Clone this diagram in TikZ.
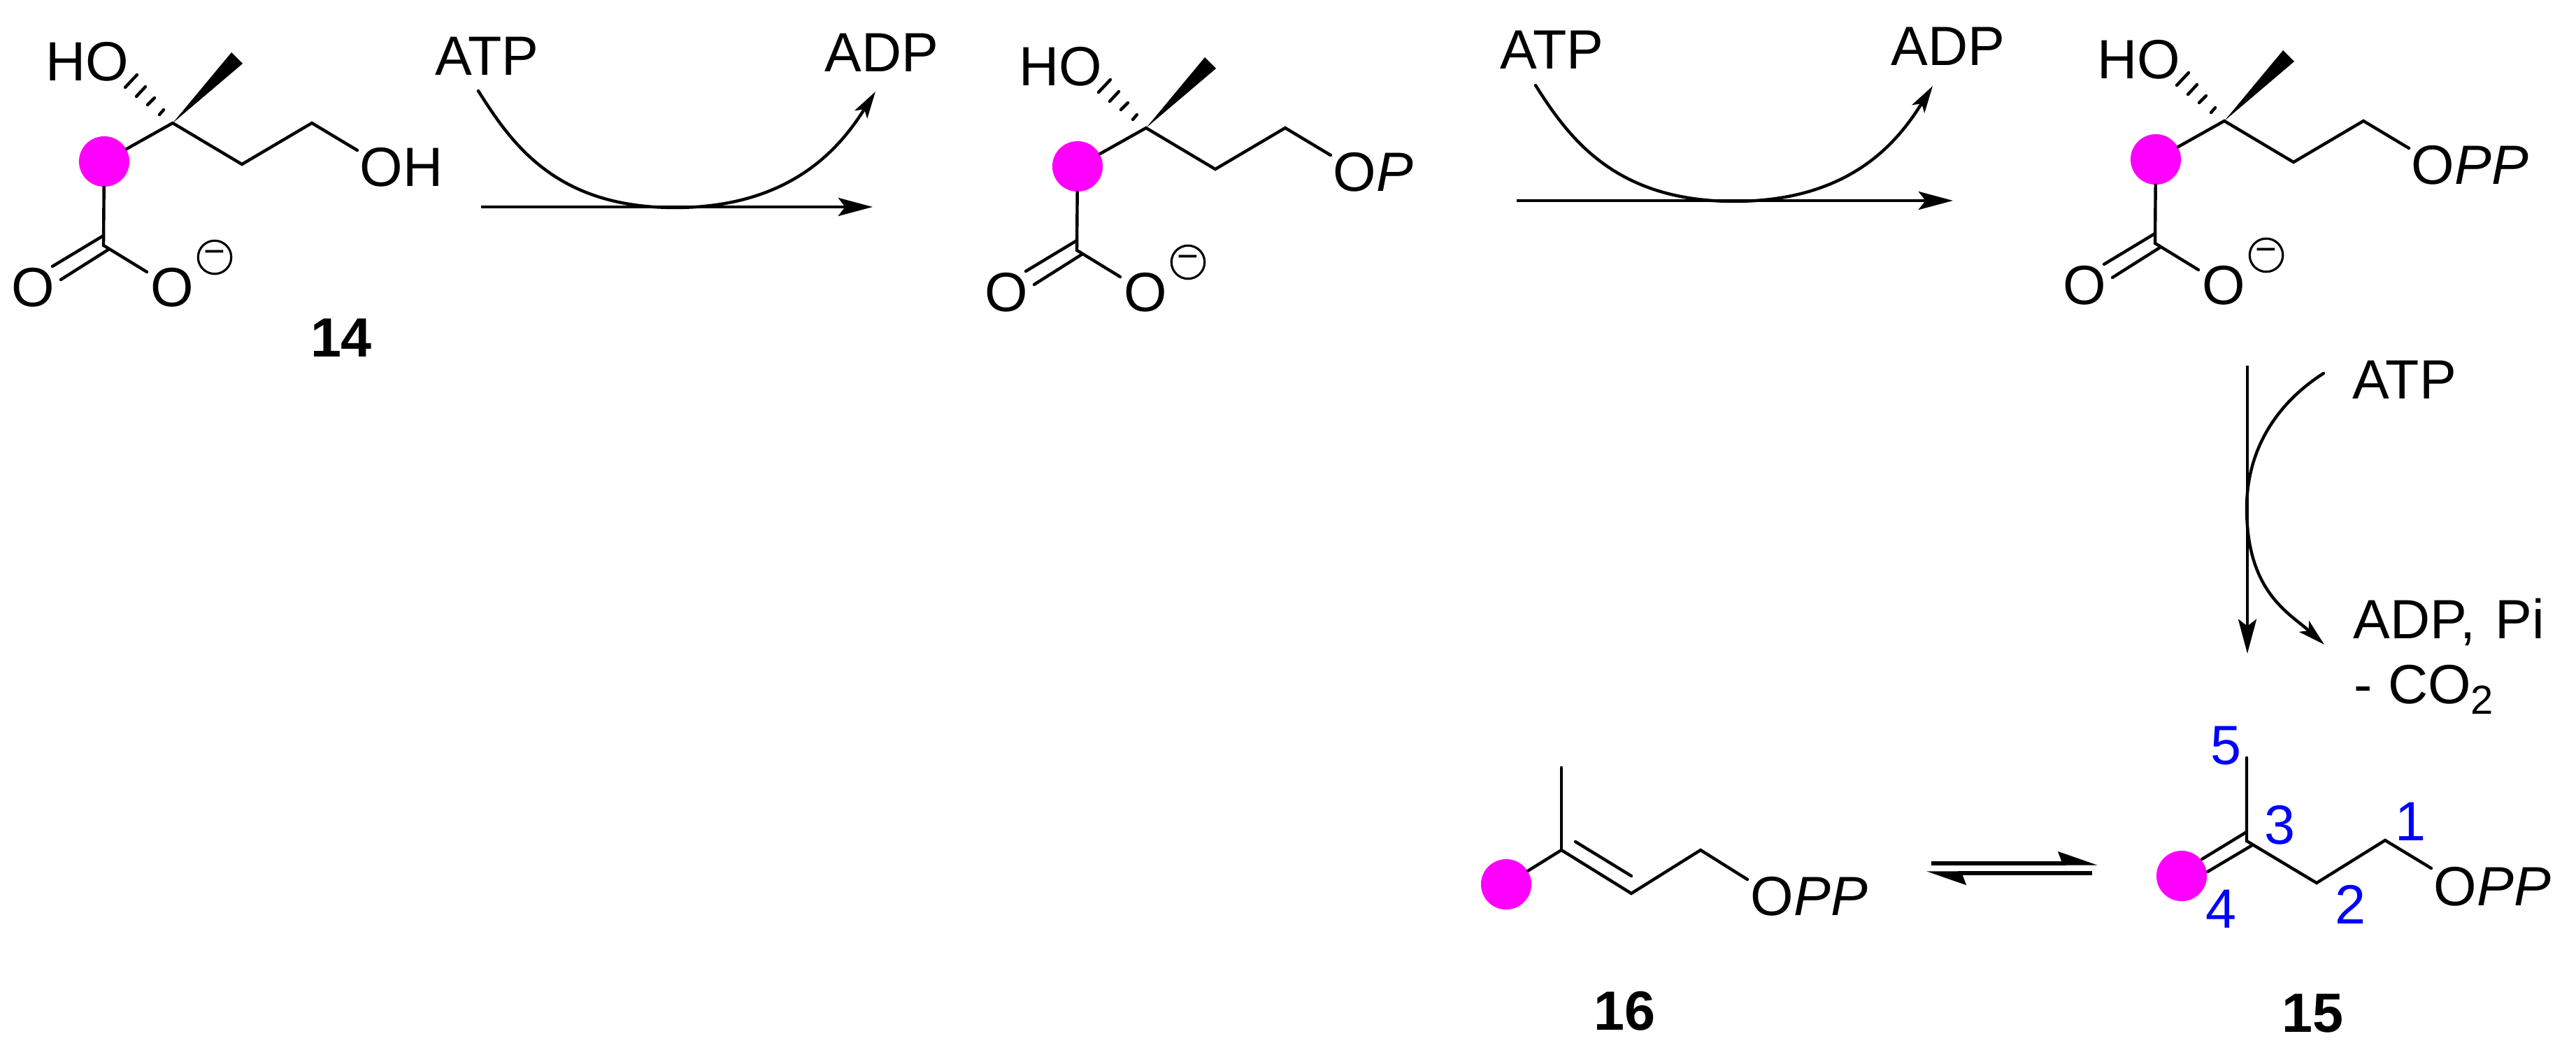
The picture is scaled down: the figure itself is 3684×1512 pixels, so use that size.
\documentclass[tikz,border=0pt]{standalone}
\usepackage{fontspec}
\setmainfont{Liberation Sans}
\usetikzlibrary{arrows.meta}
\definecolor{dotpink}{RGB}{255,0,255}
\definecolor{numblue}{RGB}{0,0,255}

\begin{document}
\begin{tikzpicture}[x=0.01cm,y=-0.01cm,
                    bond/.style={line width=1.25pt,line cap=round},
                    lbl/.style={inner sep=0pt,anchor=base west,font=\fontsize{22.5}{27}\selectfont},
                    cmpd/.style={inner sep=0pt,anchor=base,font=\fontsize{22.5}{27}\selectfont\bfseries},
                    num/.style={inner sep=0pt,text=numblue,font=\fontsize{22.5}{27}\selectfont},
                    oxy/.style={circle,inner sep=0pt,minimum size=23pt,font=\fontsize{22.5}{27}\selectfont},
                    atomdot/.style={circle,fill=dotpink,inner sep=0pt,minimum size=20.5pt},
                    negring/.style={circle,draw,line width=0.9pt,inner sep=0pt,minimum size=13.5pt,font=\fontsize{15}{15}\selectfont},
                    rxn/.style={line width=1.25pt,-{Stealth[length=14pt,width=7.4pt,inset=2.8pt]}},
                    bent/.style={line width=1.25pt,line cap=round,-{Stealth[length=11pt,width=6pt,inset=2.5pt]}},
                    eqm/.style={line width=1.5pt,-{Stealth[harpoon,length=13.9pt,width=9.5pt,inset=1.7pt]}}]
                            \useasboundingbox (0,0) rectangle (3684,1512);

                            % Top row of acids
                            \foreach \mol/\mx/\my/\tail in {a/247/176/{OH},b/1639/183/{O\textit{P}},c/3181/173/{O\textit{PP}}}{
                            \begin{scope}[shift={(\mx,\my)}]
                                \coordinate (\mol C) at (0,0);
                                \coordinate (\mol T) at (99,59);
                                \coordinate (\mol U) at (199,0);
                                \coordinate (\mol E) at (264,39);
                                \coordinate (\mol W1) at (84,-101);
                                \coordinate (\mol W2) at (100,-85);
                                \coordinate (\mol K) at (-99,175);
                                \coordinate (\mol K1) at (-99,161);
                                \coordinate (\mol K2) at (-172,205);
                                \coordinate (\mol K3) at (-92,181);
                                \coordinate (\mol K4) at (-160,224);
                                \node[atomdot] (\mol D) at (-98,55) {};
                                \node[oxy] (\mol Ol) at (-200,235) {O};
                                \node[oxy] (\mol Or) at (-1,235) {O};
                                \node[negring] (\mol N) at (60,192) {\raisebox{-1.6pt}{−}};
                                \node[lbl] (\mol H) at (-182,-61) {HO};
                                \node[lbl] (\mol L) at (267,90) {\tail};
                                \fill (\mol C) -- (\mol W1) -- (\mol W2) -- cycle;
                                \draw[bond] (\mol D) -- (\mol C) -- (\mol T) -- (\mol U) -- (\mol E);
                                \draw[bond] (\mol D) -- (\mol K) -- (\mol Or);
                                \draw[bond] (\mol K1) -- (\mol K2);
                                \draw[bond] (\mol K3) -- (\mol K4);
                                % Hashed bond
                                \foreach \ha/\hb/\hc/\hd in {-51/-69/-68/-51,-39/-52/-52/-38,-26/-36/-36/-26,-13/-19/-19/-12}{
                                    \draw[bond] (\ha,\hb) -- (\hc,\hd);
                                }
                            \end{scope}
                            }
                            \node[cmpd] (n14) at (488,510) {14};

                            % First step
                            \node[lbl] (atpa) at (622,107) {ATP};
                            \node[lbl] (adpa) at (1179,102) {ADP};
                            \coordinate (sa) at (688,296);
                            \coordinate (ea) at (1248,296);
                            \coordinate (ca) at (684,130);
                            \coordinate (ma) at (965,297);
                            \coordinate (fa) at (1252,131);
                            \draw[rxn] (sa) -- (ea);
                            \draw[bent] (ca) .. controls +(48,76) and +(-170,0) .. (ma)
                            .. controls +(170,0) and +(-48,76) .. (fa);

                            % Second step
                            \node[lbl] (atpb) at (2145,98) {ATP};
                            \node[lbl] (adpb) at (2704,93) {ADP};
                            \coordinate (sb) at (2169,287);
                            \coordinate (eb) at (2793,287);
                            \coordinate (cb) at (2196,122);
                            \coordinate (mb) at (2480,288);
                            \coordinate (fb) at (2764,123);
                            \draw[rxn] (sb) -- (eb);
                            \draw[bent] (cb) .. controls +(48,76) and +(-170,0) .. (mb)
                            .. controls +(170,0) and +(-48,76) .. (fb);

                            % Third step
                            \node[lbl] (atpc) at (3364,570) {ATP};
                            \node[lbl] (adpc) at (3365,913) {ADP,\hspace{8pt}Pi};
                            \node[lbl] (co2) at (3366,1006) {- CO\raisebox{-4.5pt}{\fontsize{16.5}{18}\selectfont 2}};
                            \coordinate (sc) at (3214,523);
                            \coordinate (ec) at (3214,935);
                            \coordinate (cc) at (3323,534);
                            \coordinate (mc) at (3213,727);
                            \coordinate (fc) at (3324,922);
                            \draw[rxn] (sc) -- (ec);
                            \draw[bent] (cc) .. controls +(-66,42) and +(0,-85) .. (mc)
                            .. controls +(0,120) and +(-50,-45) .. (fc);

                            % Left alkene
                            \coordinate (dC) at (2233,1216);
                            \coordinate (dM) at (2233,1098);
                            \coordinate (dT) at (2333,1278);
                            \coordinate (dI) at (2253,1204);
                            \coordinate (dJ) at (2333,1253);
                            \coordinate (dU) at (2432,1216);
                            \coordinate (dE) at (2499,1258);
                            \node[atomdot] (dD) at (2154,1265) {};
                            \node[lbl] (dL) at (2503,1309) {O\textit{PP}};
                            \node[cmpd] (n16) at (2323,1473) {16};
                            \draw[bond] (dD) -- (dC) -- (dT) -- (dU) -- (dE);
                            \draw[bond] (dM) -- (dC);
                            \draw[bond] (dI) -- (dJ);

                            % Equilibrium
                            \coordinate (qa) at (2762,1235);
                            \coordinate (qb) at (3000,1235);
                            \coordinate (qc) at (2992,1249);
                            \coordinate (qd) at (2755,1249);
                            \draw[eqm] (qa) -- (qb);
                            \draw[eqm] (qc) -- (qd);

                            % Right alkene
                            \coordinate (fC) at (3213,1203);
                            \coordinate (fM) at (3213,1084);
                            \coordinate (fI) at (3213,1190);
                            \coordinate (fJ) at (3149,1229);
                            \coordinate (fK) at (3221,1209);
                            \coordinate (fN) at (3157,1247);
                            \coordinate (fT) at (3313,1263);
                            \coordinate (fU) at (3411,1202);
                            \coordinate (fE) at (3477,1242);
                            \draw[bond] (fI) -- (fJ);
                            \draw[bond] (fK) -- (fN);
                            \draw[bond] (fM) -- (fC) -- (fT) -- (fU) -- (fE);
                            \node[atomdot] (fD) at (3120,1253) {};
                            \node[lbl] (fL) at (3480,1295) {O\textit{PP}};
                            \node[cmpd] (n15) at (3307,1476) {15};
                            \node[num] (p5) at (3183,1067) {5};
                            \node[num] (p3) at (3260,1180) {3};
                            \node[num] (p1) at (3447,1175) {1};
                            \node[num] (p2) at (3361,1294) {2};
                            \node[num] (p4) at (3176,1300) {4};
                      \end{tikzpicture}
\end{document}
